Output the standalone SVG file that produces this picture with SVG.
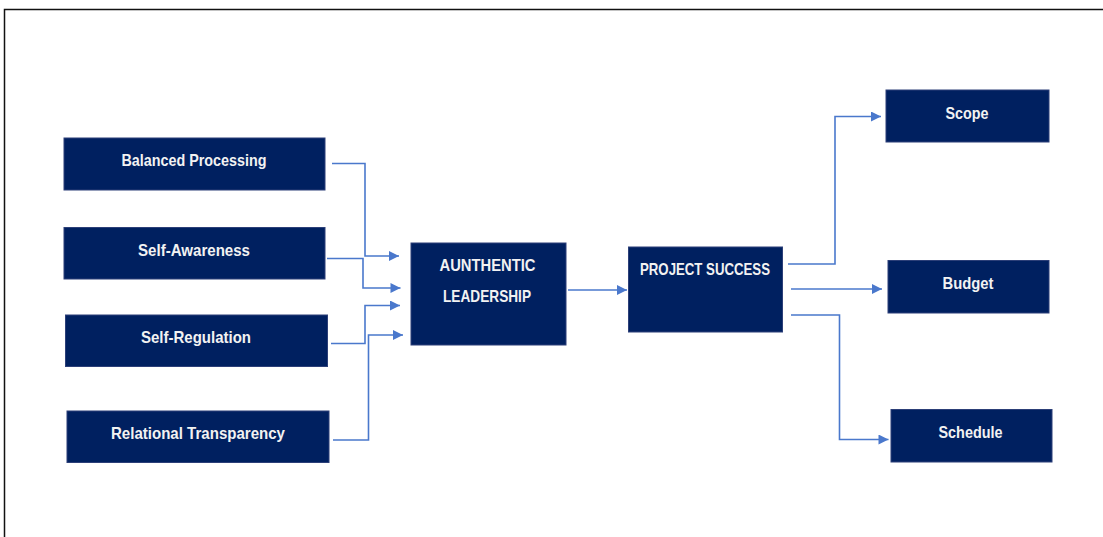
<svg xmlns="http://www.w3.org/2000/svg" width="1103" height="537" viewBox="0 0 1103 537">
  <style>
    .box { fill: #002060; stroke: #2c3f78; stroke-width: 1; }
    .lbl { font-family: "Liberation Sans", Arial, sans-serif; font-weight: bold; font-size: 16.5px; fill: #f2f2f2; text-anchor: middle; }
    .wire { fill: none; stroke: #4a78cc; stroke-width: 1.6; marker-end: url(#arrow); }
    .frame { fill: none; stroke: #111; stroke-width: 1.5; }
  </style>
  <defs>
    <marker id="arrow" viewBox="0 0 10 10" refX="10" refY="5" markerWidth="11" markerHeight="10" markerUnits="userSpaceOnUse" orient="auto">
      <path d="M0,0 L10,5 L0,10 z" fill="#4a78cc"/>
    </marker>
  </defs>

  <rect width="1103" height="537" fill="#fff"/>
  <!-- outer frame: top and left edges -->
  <path class="frame" d="M4.5,537 V9.5 H1103"/>

  <!-- connectors -->
  <g id="connectors">
    <path class="wire" d="M332,163.5 H365 V256 H399"/>
    <path class="wire" d="M327,258.5 H363 V288 H400.5"/>
    <path class="wire" d="M331,343.5 H365 V305.5 H400"/>
    <path class="wire" d="M333,440 H368.5 V335 H403"/>
    <path class="wire" d="M568,290 H627"/>
    <path class="wire" d="M788,264 H835 V116.5 H881"/>
    <path class="wire" d="M791,289 H882"/>
    <path class="wire" d="M791,315 H839.5 V439.5 H888.5"/>
  </g>

  <g id="balanced-processing">
    <rect class="box" x="64" y="138" width="261" height="52"/>
    <text class="lbl" x="194" y="165.5" textLength="145" lengthAdjust="spacingAndGlyphs">Balanced Processing</text>
  </g>
  <g id="self-awareness">
    <rect class="box" x="64" y="227.5" width="261" height="51.5"/>
    <text class="lbl" x="194" y="256" textLength="112" lengthAdjust="spacingAndGlyphs">Self-Awareness</text>
  </g>
  <g id="self-regulation">
    <rect class="box" x="65.5" y="315" width="262" height="51.5"/>
    <text class="lbl" x="196" y="343" textLength="110" lengthAdjust="spacingAndGlyphs">Self-Regulation</text>
  </g>
  <g id="relational-transparency">
    <rect class="box" x="67" y="411" width="262" height="51.5"/>
    <text class="lbl" x="198" y="439" textLength="174" lengthAdjust="spacingAndGlyphs">Relational Transparency</text>
  </g>

  <g id="authentic-leadership">
    <rect class="box" x="411" y="243" width="155" height="102"/>
    <text class="lbl" x="487.5" y="271" textLength="96" lengthAdjust="spacingAndGlyphs">AUNTHENTIC</text>
    <text class="lbl" x="487" y="302" textLength="88" lengthAdjust="spacingAndGlyphs">LEADERSHIP</text>
  </g>

  <g id="project-success">
    <rect class="box" x="628.5" y="247" width="154" height="85"/>
    <text class="lbl" x="705" y="275" textLength="130" lengthAdjust="spacingAndGlyphs">PROJECT SUCCESS</text>
  </g>

  <g id="scope">
    <rect class="box" x="886" y="90" width="163" height="52"/>
    <text class="lbl" x="967" y="119" textLength="43" lengthAdjust="spacingAndGlyphs">Scope</text>
  </g>
  <g id="budget">
    <rect class="box" x="888" y="260.5" width="161" height="52.5"/>
    <text class="lbl" x="968" y="289" textLength="51" lengthAdjust="spacingAndGlyphs">Budget</text>
  </g>
  <g id="schedule">
    <rect class="box" x="891" y="409.5" width="161" height="52.5"/>
    <text class="lbl" x="970.5" y="437.5" textLength="64" lengthAdjust="spacingAndGlyphs">Schedule</text>
  </g>
</svg>
